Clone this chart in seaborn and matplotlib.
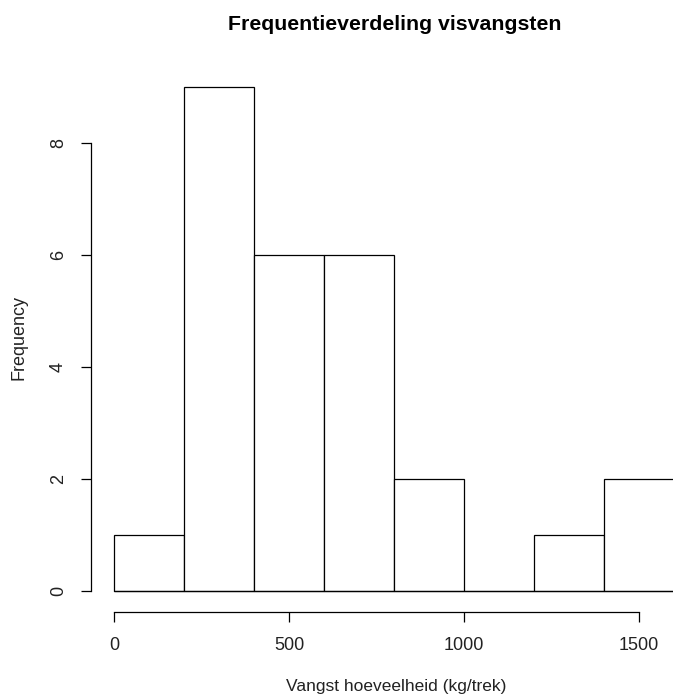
import matplotlib
matplotlib.use("Agg")
import matplotlib.pyplot as plt
import seaborn as sns
import numpy as np

bin_edges = [0, 200, 400, 600, 800, 1000, 1200, 1400, 1600]
counts = [1, 9, 6, 6, 2, 0, 1, 2]
x_ticks = [0, 500, 1000, 1500]
y_ticks = [0, 2, 4, 6, 8]
title = "Frequentieverdeling visvangsten"
xlabel = "Vangst hoeveelheid (kg/trek)"
ylabel = "Frequency"

sns.set_style("white")
plt.rcParams['font.family'] = ['Liberation Sans', 'DejaVu Sans']

W, H = 673, 695
fig = plt.figure(figsize=(W / 100, H / 100), dpi=100)
# plot region in pixels (R style)
left, right, top, bottom = 91.0, 696.4, 66.8, 612.0
ax = fig.add_axes([left / W, (H - bottom) / H, (right - left) / W, (bottom - top) / H])

centers = [(a + b) / 2 for a, b in zip(bin_edges[:-1], bin_edges[1:])]
sns.histplot(x=centers, weights=counts, bins=bin_edges, ax=ax,
             color="white", edgecolor="black", linewidth=0.9, alpha=1)
ax.plot([bin_edges[0], bin_edges[-1]], [0, 0], color="black", lw=0.9)

ax.set_xlim(-65.7, 1664)
ax.set_ylim(-0.384, 9.36)

for s in ["top", "right"]:
    ax.spines[s].set_visible(False)
for s in ["left", "bottom"]:
    ax.spines[s].set_color("black")
    ax.spines[s].set_linewidth(0.9)
ax.spines["left"].set_bounds(0, 8)
ax.spines["bottom"].set_bounds(0, 1500)

ax.set_xticks(x_ticks)
ax.set_yticks(y_ticks)
ax.set_xticklabels([str(v) for v in x_ticks])
ax.set_yticklabels([str(v) for v in y_ticks], rotation=90, va="center")
ax.tick_params(axis="both", direction="out", length=7.2, width=0.9, color="black",
               labelsize=13, labelcolor="#222222", left=True, bottom=True)
ax.tick_params(axis="x", pad=11)
ax.tick_params(axis="y", pad=10)

ax.set_xlabel("")
ax.set_ylabel("")
fig.text(396 / W, (H - 687) / H, xlabel, ha="center", va="center", fontsize=12.5, color="#222222")
fig.text(19 / W, (H - 338) / H, ylabel, ha="center", va="center", rotation=90, fontsize=13, color="#222222")
fig.text(394.5 / W, (H - 25) / H, title, ha="center", va="center", fontsize=15.3, fontweight="bold", color="black")

fig.savefig("out.png", dpi=100)
